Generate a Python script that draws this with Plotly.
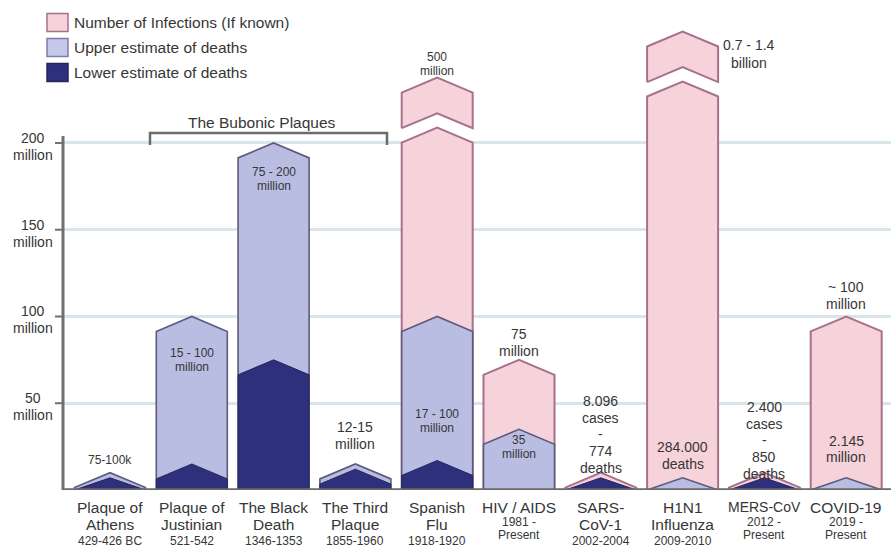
import plotly.graph_objects as go

# ---------------------------------------------------------------- data
pandemics = ["Plaque of Athens", "Plaque of Justinian", "The Black Death",
             "The Third Plaque", "Spanish Flu", "HIV / AIDS", "SARS-CoV-1",
             "H1N1 Influenza", "MERS-CoV", "COVID-19"]
name_lines = [["Plaque of", "Athens"], ["Plaque of", "Justinian"],
              ["The Black", "Death"], ["The Third", "Plaque"], ["Spanish", "Flu"],
              ["HIV / AIDS"], ["SARS-", "CoV-1"], ["H1N1", "Influenza"],
              ["MERS-CoV"], ["COVID-19"]]
period_lines = [["429-426 BC"], ["521-542"], ["1346-1353"], ["1855-1960"],
                ["1918-1920"], ["1981 -", "Present"], ["2002-2004"],
                ["2009-2010"], ["2012 -", "Present"], ["2019 -", "Present"]]

# all values in millions of people
infections = [None, None, None, None, 500, 75, 0.008096, 1400, 0.0024, 100]
deaths_upper = [0.1, 100, 200, 15, 100, 35, None, 0.284, None, 2.145]
deaths_lower = [0.075, 15, 75, 12, 17, None, 0.000774, None, 0.00085, None]

y_ticks = [50, 100, 150, 200]
y_tick_text = ["50", "100", "150", "200"]

inside_text = [None, ["15 - 100", "million"], ["75 - 200", "million"], None,
               ["17 - 100", "million"], ["35", "million"], None,
               ["284.000", "deaths"], None, ["2.145", "million"]]
above_text = [["75-100k"], None, None, ["12-15", "million"], ["500", "million"],
              ["75", "million"], ["8.096", "cases", "-", "774", "deaths"],
              ["0.7 - 1.4", "billion"], ["2.400", "cases", "-", "850", "deaths"],
              ["~ 100", "million"]]

legend_items = ["Number of Infections (If known)", "Upper estimate of deaths",
                "Lower estimate of deaths"]
group_title = "The Bubonic Plaques"

# ---------------------------------------------------------------- styling
W, H = 891, 555
ML, MB = 63, 65
PW, PH = W - ML, H - MB
X0_PX, STEP_PX = 110, 81.8          # first column centre and column pitch
Y_MAX = 282.4                       # top of the value axis (millions)

HW = 0.434          # half width of a column (category units)
ROOF = 8.6          # height of the gabled roof (millions)
FLOOR = 7.0         # smallest drawn roof so tiny counts stay visible
BAND = 3.0          # minimum visible band between nested layers
CAP = 200           # above this the axis is compressed ...
OVER = 0.0295       # ... by this factor (scale break)
GAP, CHEV = 8.3, 20.5

PINK, PINK_LINE = "#f6d2da", "#a8718b"
LAV, LAV_LINE = "#b9bde2", "#5d5a7c"
NAVY, NAVY_LINE = "#2f307c", "#25265e"
TXT = "#363636"
AXIS = "#707070"
FONT = "Liberation Sans, Arial, sans-serif"


def px(x):
    return (x - ML) / PW


def py(y):
    return (PH - y) / PH


def shown(v):
    return v if v <= CAP else CAP + (v - CAP) * OVER


fig = go.Figure()


def polygon(xs, ys, fill, line, width):
    fig.add_trace(go.Scatter(x=xs, y=ys, mode="lines", fill="toself",
                             fillcolor=fill, line=dict(color=line, width=width),
                             hoverinfo="skip", showlegend=False))


def house(i, top):
    x0, x1 = i - HW, i + HW
    sh = max(top - ROOF, 0)
    return [x0, x0, i, x1, x1, x0], [0, sh, top, sh, 0, 0]


# displayed heights of the nested layers
heights = []
for lo, up, inf in zip(deaths_lower, deaths_upper, infections):
    d_lo = max(shown(lo), FLOOR) if lo is not None else None
    d_up = None
    if up is not None:
        d_up = max(shown(up), d_lo + BAND if d_lo is not None else FLOOR)
    d_inf = None
    if inf is not None:
        inner = max([h for h in (d_lo, d_up) if h is not None], default=None)
        d_inf = max(shown(inf), inner + BAND if inner is not None else FLOOR)
    heights.append((d_inf, d_up, d_lo))

# infections (behind), then upper and lower death estimates
for i, (d_inf, d_up, d_lo) in enumerate(heights):
    if d_inf is None:
        continue
    xs, ys = house(i, d_inf)
    polygon(xs, ys, PINK, PINK_LINE, 2)
    if infections[i] > CAP:
        b = d_inf + GAP
        t = b + CHEV
        x0, x1 = i - HW, i + HW
        polygon([x0, i, x1, x1, i, x0, x0],
                [b - ROOF, b, b - ROOF, t - ROOF, t, t - ROOF, b - ROOF],
                PINK, PINK_LINE, 2)
for i, (d_inf, d_up, d_lo) in enumerate(heights):
    if d_up is not None:
        xs, ys = house(i, d_up)
        polygon(xs, ys, LAV, LAV_LINE, 1.6)
for i, (d_inf, d_up, d_lo) in enumerate(heights):
    if d_lo is not None:
        xs, ys = house(i, d_lo)
        polygon(xs, ys, NAVY, NAVY_LINE, 1)

annotations = []


def text(x, y, s, size, xref="paper", anchor="center", xshift=0):
    annotations.append(dict(x=x, y=py(y), xref=xref, yref="paper", text=s,
                            showarrow=False, xanchor=anchor, yanchor="middle",
                            xshift=xshift,
                            font=dict(family=FONT, size=size, color=TXT)))


def lines(i, first_y, parts, size, step, xshift=0):
    for k, s in enumerate(parts):
        text(i, first_y + k * step, s, size, xref="x", xshift=xshift)


# value labels: (first line y in px, font size, line step)
inside_pos = {1: (353, 12, 14), 2: (172, 12, 14), 4: (414, 12, 14),
              5: (440, 12, 14), 7: (447, 14, 17), 9: (441, 14, 16)}
above_pos = {0: (460, 12, 14), 3: (427, 14, 17), 4: (57, 12, 14),
             5: (334, 14, 17), 6: (401, 14, 16.7), 7: (45, 14, 18),
             8: (407, 14, 16.7), 9: (287, 14, 17)}
above_shift = {7: 66}
for i, parts in enumerate(inside_text):
    if parts:
        y0, sz, st = inside_pos[i]
        lines(i, y0, parts, sz, st)
for i, parts in enumerate(above_text):
    if parts:
        y0, sz, st = above_pos[i]
        lines(i, y0, parts, sz, st, xshift=above_shift.get(i, 0))

# category labels
for i, (nm, per) in enumerate(zip(name_lines, period_lines)):
    nsize = 14 if pandemics[i] == "MERS-CoV" else 15.5
    lines(i, 507, nm, nsize, 17.5)
    if len(nm) == 2:
        lines(i, 541, per, 12, 13)
    else:
        lines(i, 522, per, 12, 13)

# value axis labels
for v, t in zip(y_ticks, y_tick_text):
    yp = PH - v * PH / Y_MAX
    text(px(33), yp - 5, t, 14)
    text(px(33), yp + 12, "million", 14)

# legend
leg_fill = [(PINK, PINK_LINE), ("#c6c8ea", "#7e7db0"), (NAVY, NAVY_LINE)]
shapes = []
for k, (lab, (fc, lc)) in enumerate(zip(legend_items, leg_fill)):
    yc = 22.5 + 25 * k
    shapes.append(dict(type="rect", xref="paper", yref="paper",
                       x0=px(47), x1=px(68), y0=py(yc + 9), y1=py(yc - 9),
                       fillcolor=fc, line=dict(color=lc, width=1.5)))
    text(px(72), yc, lab, 15.5, anchor="left")

# group bracket
text(px(261.5), 122, group_title, 15.5)
shapes.append(dict(type="path", xref="paper", yref="paper",
                   path=f"M {px(150)},{py(145)} L {px(150)},{py(133)} "
                        f"L {px(387)},{py(133)} L {px(387)},{py(145)}",
                   line=dict(color="#6b6b6b", width=2.5)))

# axis line, tick marks and baseline
top_axis = 204
shapes.append(dict(type="line", xref="paper", yref="y", x0=0, x1=0,
                   y0=0, y1=top_axis, line=dict(color=AXIS, width=3)))
for v in y_ticks:
    shapes.append(dict(type="line", xref="paper", yref="y", x0=px(55), x1=0,
                       y0=v, y1=v, line=dict(color=AXIS, width=2)))
shapes.append(dict(type="line", xref="paper", yref="y", x0=0, x1=1,
                   y0=0, y1=0, line=dict(color="#6a6a6a", width=3.5),
                   layer="above"))

fig.update_layout(
    width=W, height=H, autosize=False,
    margin=dict(l=ML, r=0, t=0, b=MB, pad=0),
    paper_bgcolor="white", plot_bgcolor="white", showlegend=False,
    xaxis=dict(range=[(ML - X0_PX) / STEP_PX, (W - X0_PX) / STEP_PX],
               showgrid=False, zeroline=False, showticklabels=False,
               ticks="", fixedrange=True),
    yaxis=dict(range=[0, Y_MAX], tickvals=y_ticks, showticklabels=False,
               ticks="", showgrid=True, gridcolor="#d8e5ea", gridwidth=2.5,
               zeroline=False, fixedrange=True),
    annotations=annotations, shapes=shapes,
)

fig.write_html("out.html")
